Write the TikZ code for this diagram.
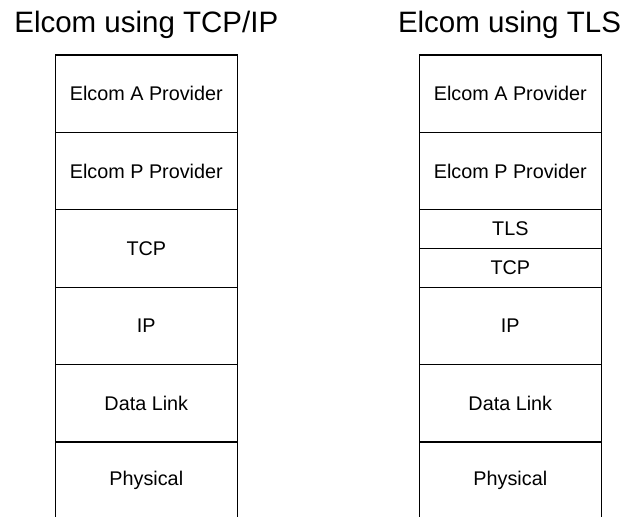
\documentclass[tikz,border=0pt]{standalone}
\usepackage{fontspec}
\setmainfont{Liberation Sans}
\begin{document}
\begin{tikzpicture}[x=1pt,y=-1pt,
  layer/.style={draw, line width=1.2pt, rectangle, minimum width=182pt, minimum height=77.4pt, inner sep=0pt, outer sep=0pt, anchor=north, font=\fontsize{19.8}{24}\selectfont},
  thin layer/.style={layer, minimum height=38.7pt},
  open layer/.style={layer, draw=none},
  side/.style={line width=1.2pt},
  title/.style={anchor=base, inner sep=0pt, font=\fontsize{29.5}{34}\selectfont}]
\useasboundingbox (0,0) rectangle (628,516);
% titles
\node[title] (t1) at (146.3,33) {Elcom using TCP/IP};
\node[title] (t2) at (509.5,33) {Elcom using TLS};
% left stack
\node[layer] (la) at (146.3,55) {Elcom A Provider};
\node[layer] (lp) at (146.3,132.4) {Elcom P Provider};
\node[layer] (ltcp) at (146.3,209.8) {TCP};
\node[layer] (lip) at (146.3,287.2) {IP};
\node[layer] (ldl) at (146.3,364.6) {Data Link};
\node[open layer] (lph) at (146.3,442) {Physical};
\coordinate (bot) at (0,518);
\draw[side] (lph.north west) -- (lph.north west |- bot);
\draw[side] (lph.north east) -- (lph.north east |- bot);
% right stack
\node[layer] (ra) at (510.3,55) {Elcom A Provider};
\node[layer] (rp) at (510.3,132.4) {Elcom P Provider};
\node[thin layer] (rtls) at (510.3,209.8) {TLS};
\node[thin layer] (rtcp) at (510.3,248.5) {TCP};
\node[layer] (rip) at (510.3,287.2) {IP};
\node[layer] (rdl) at (510.3,364.6) {Data Link};
\node[open layer] (rph) at (510.3,442) {Physical};
\draw[side] (rph.north west) -- (rph.north west |- bot);
\draw[side] (rph.north east) -- (rph.north east |- bot);
\end{tikzpicture}
\end{document}
